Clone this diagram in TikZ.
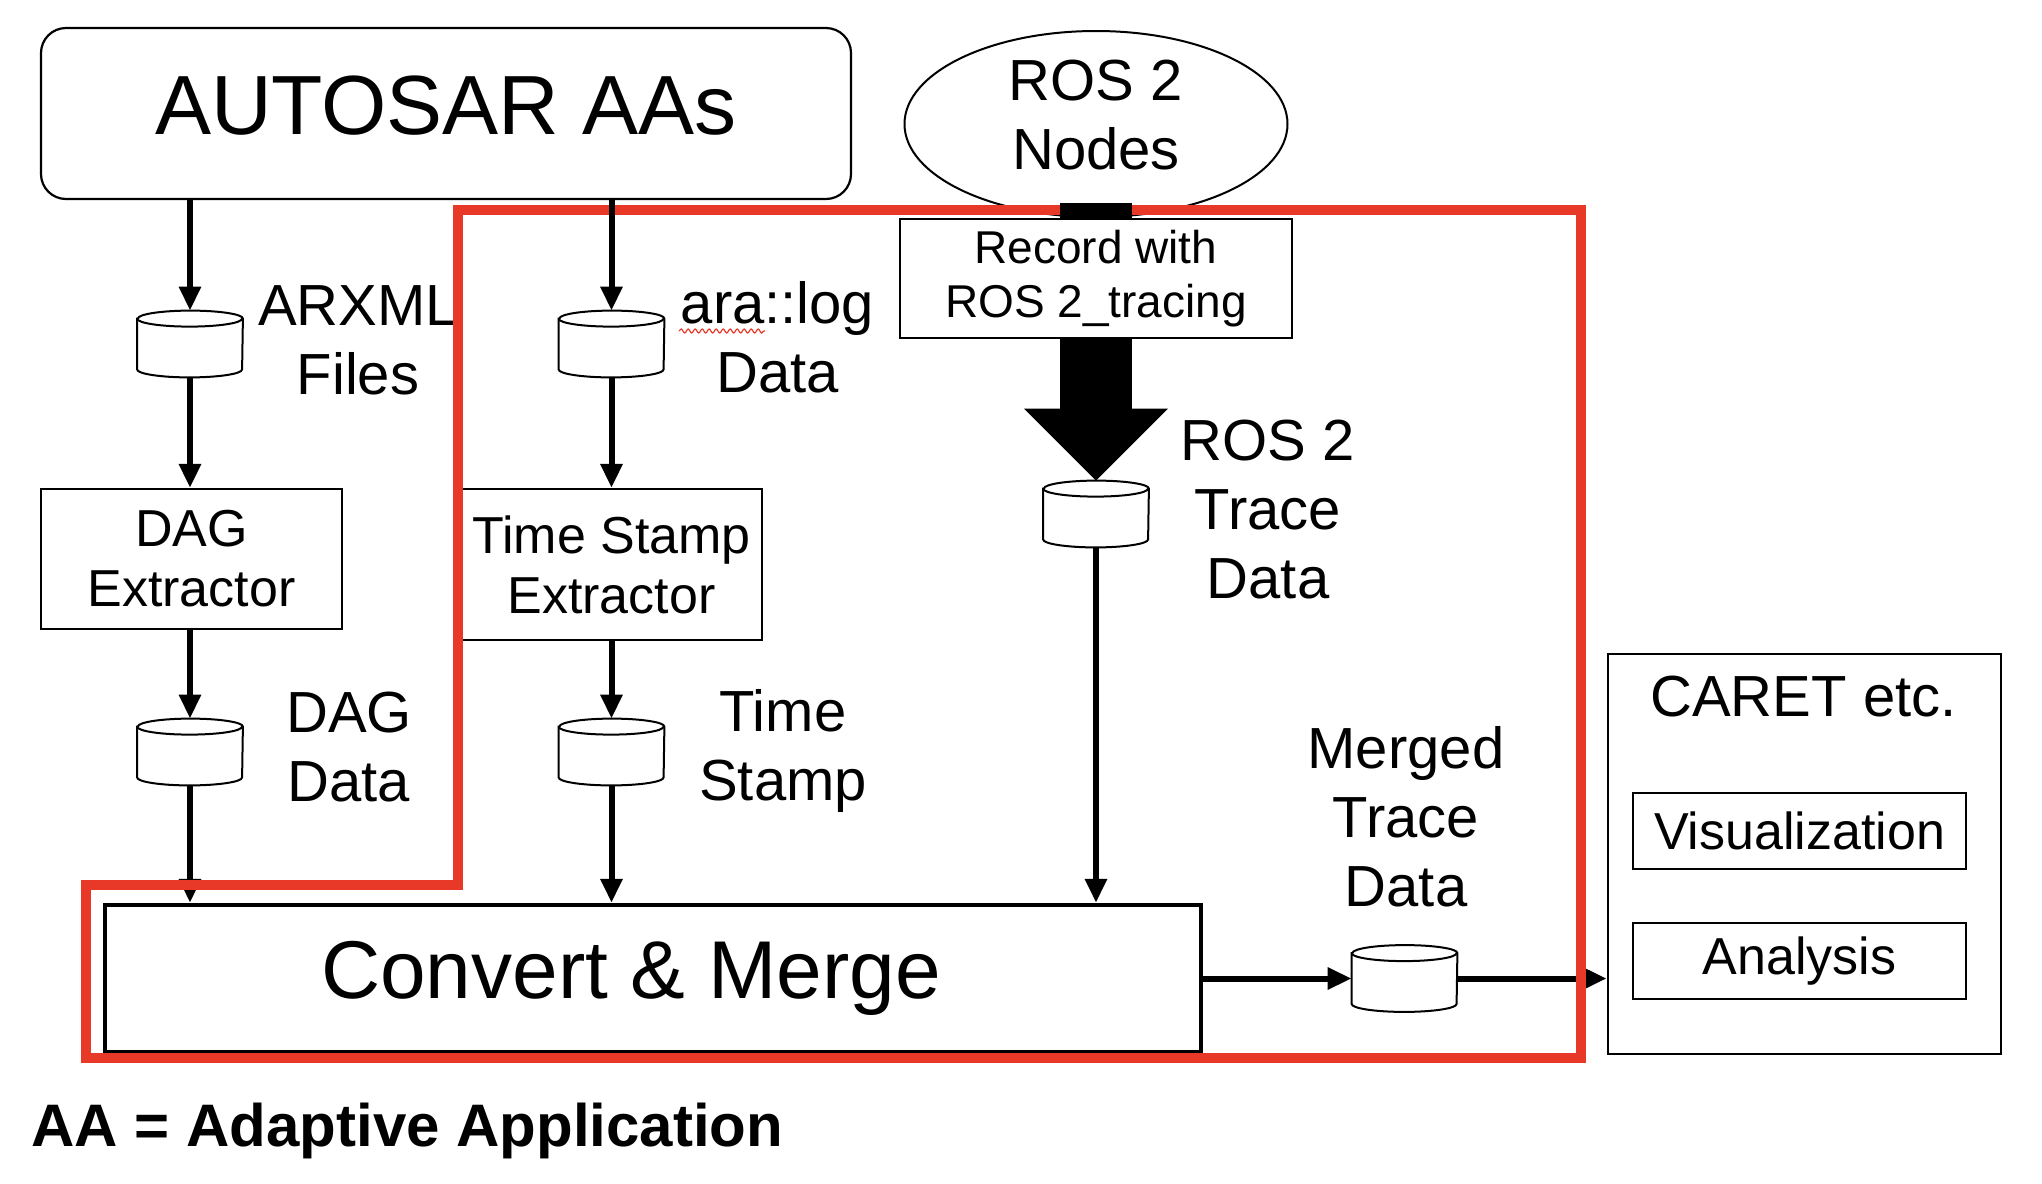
\documentclass[tikz,border=0pt]{standalone}
\usepackage{fontspec}
\setmainfont{Liberation Sans}
\usetikzlibrary{arrows.meta,shapes.geometric,decorations.pathmorphing}
\definecolor{framered}{RGB}{232,56,40}
\newcommand{\fsz}[2]{\fontsize{#1}{#2}\selectfont}

\begin{document}
\begin{tikzpicture}[x=0.5pt, y=-0.5pt,
    every node/.style={inner sep=0pt},
    proc/.style={draw, line width=1.1pt, align=center, font=\fsz{26pt}{30pt}},
    tool/.style={draw, line width=0.8pt, minimum width=166.5pt, minimum height=38pt, font=\fsz{26pt}{30pt}},
    db/.style={minimum width=52.5pt, minimum height=33pt,
      append after command={\pgfextra{
        \draw[line width=1pt, fill=white, x=1pt, y=1pt]
          ([yshift=-4pt]\tikzlastnode.north west) -- ([yshift=4pt]\tikzlastnode.south west)
          arc[start angle=180, end angle=360, x radius=26.25pt, y radius=4pt]
          -- ([yshift=-4pt]\tikzlastnode.north east)
          arc[start angle=0, end angle=180, x radius=26.25pt, y radius=4pt] -- cycle;
        \draw[line width=1pt, x=1pt, y=1pt] ([yshift=-4pt]\tikzlastnode.north west)
          arc[start angle=180, end angle=360, x radius=26.25pt, y radius=4pt];}}},
    lbl/.style={align=center, font=\fsz{29pt}{34.5pt}},
    flow/.style={line width=3pt, -{Triangle[length=12pt,width=10.5pt]}}]
  \useasboundingbox (0,0) rectangle (2042,1184);

  % sources
  \node[draw, line width=1.1pt, rounded corners=12.5pt, minimum width=405pt, minimum height=85.5pt,
    text depth=8pt, font=\fsz{42pt}{48pt}] (aa) at (446,113.5) {AUTOSAR AAs};
  \node[draw, ellipse, line width=1pt, minimum width=191.5pt, minimum height=93pt,
    text depth=9.5pt, align=center, font=\fsz{29pt}{34.5pt}] (ros) at (1096,124) {ROS 2\\Nodes};

  % AUTOSAR side
  \node[db] (arxml) at (190,344) {};
  \node[lbl] (arxmllbl) at (358,340) {ARXML\\Files};
  \node[proc, minimum width=150.5pt, minimum height=70pt] (dag) at (191.5,559) {DAG\\Extractor};
  \node[db] (dagdata) at (190,752) {};
  \node[lbl] (dagdatalbl) at (349,747) {DAG\\Data};

  \node[db] (aralog) at (611.5,344) {};
  \node[lbl] (araloglbl) at (777.5,337.5) {ara::log\\Data};
  \node[proc, minimum width=150.5pt, minimum height=75.5pt] (ts) at (611.5,564.5) {Time Stamp\\Extractor};
  \node[db] (stamp) at (611.5,752) {};
  \node[lbl] (stamplbl) at (783,751) {Time\\Stamp};

  % ROS 2 side
  \node[db] (trace) at (1096,514) {};
  \node[lbl] (tracelbl) at (1268,510) {ROS 2\\Trace\\Data};

  % merge
  \node[draw, line width=2.2pt, minimum width=548pt, minimum height=73.5pt,
    font=\fsz{41pt}{46pt}] (cm) at (653,978.5) {Convert \& Merge\hspace*{22pt}};
  \node[db] (merged) at (1404.5,978.5) {};
  \node[lbl] (mergedlbl) at (1406,816.5) {Merged\\Trace\\Data};

  % tools
  \node[draw, line width=1.3pt, minimum width=196.5pt, minimum height=200pt] (caret) at (1804.5,854) {};
  \node[lbl] (caretlbl) at (1803.5,697) {CARET etc.};
  \node[tool] (vis) at (1799.5,831) {Visualization};
  \node[tool] (ana) at (1799.5,961) {Analysis};

  \node[anchor=base west, font=\fsz{30pt}{36pt}\bfseries] (note) at (31,1146) {AA = Adaptive Application};

  % arrows under the frame
  \draw[flow] (dagdata.south) -- (dagdata.south |- cm.north);
  \draw[flow] (merged.east) -- (merged.east -| caret.west);

  % frame
  \draw[framered, line width=5pt] (86,885) -- (458,885) -- (458,210) -- (1581,210)
    -- (1581,1058) -- (86,1058) -- cycle;
  \draw[framered, line width=0.6pt, decorate, decoration={snake, amplitude=1pt, segment length=3.5pt}]
    (679,331) -- (765,331);

  % arrows
  \draw[flow] (arxml.north |- aa.south) -- (arxml.north);
  \draw[flow] (arxml.south) -- (arxml.south |- dag.north);
  \draw[flow] (dag.south -| dagdata.north) -- (dagdata.north);
  \draw[flow] (aralog.north |- aa.south) -- (aralog.north);
  \draw[flow] (aralog.south) -- (ts.north);
  \draw[flow] (ts.south) -- (stamp.north);
  \draw[flow] (stamp.south) -- (stamp.south |- cm.north);
  \draw[flow] (trace.south) -- (trace.south |- cm.north);
  \draw[flow] (cm.east) -- (merged.west);
  \draw[line width=36pt, -{Triangle[length=36pt,width=72pt,line width=0pt]}]
    ([yshift=7.5pt]ros.south) -- (trace.north);

  \node[draw, line width=0.6pt, fill=white, minimum width=196pt, minimum height=59.5pt,
    align=center, font=\fsz{23pt}{27pt}] (rec) at (1096,278.5) {Record with\\ROS 2\_tracing};
\end{tikzpicture}
\end{document}
